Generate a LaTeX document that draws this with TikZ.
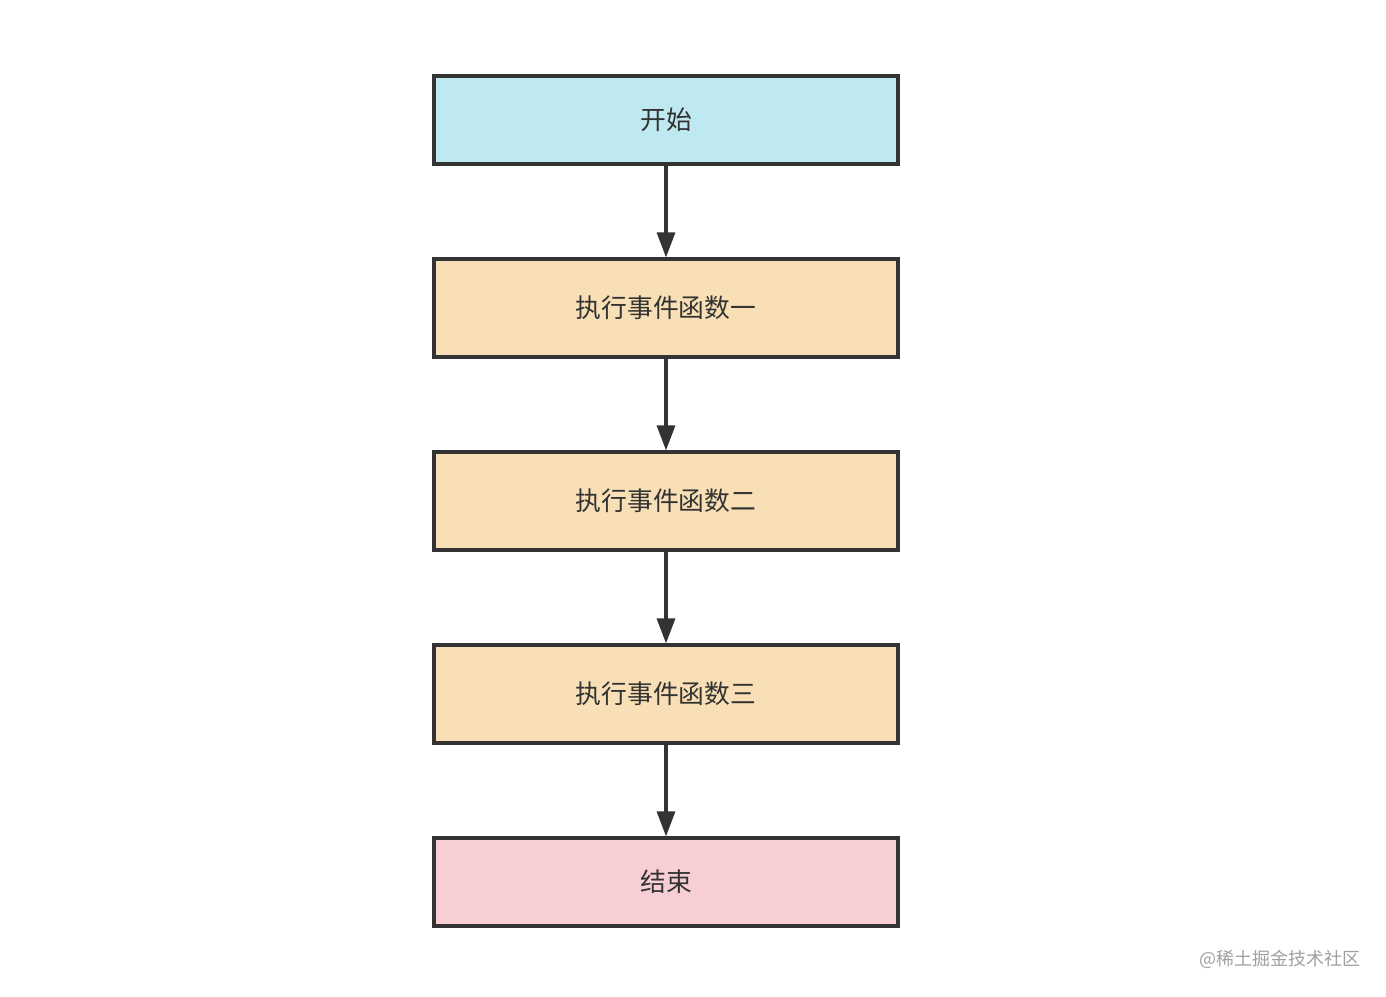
\documentclass[tikz,border=0pt]{standalone}
\usepackage{fontspec}
\newfontfamily\cjk{Noto Sans CJK SC}
\usetikzlibrary{arrows.meta}
\definecolor{edgec}{HTML}{333333}
\definecolor{cyanf}{HTML}{BEE9F0}
\definecolor{orangef}{HTML}{F8DFB5}
\definecolor{pinkf}{HTML}{F6CED4}
\definecolor{wmark}{HTML}{A0A0A0}
\begin{document}
\begin{tikzpicture}[x=1pt,y=-1pt,
  box/.style={draw=edgec, line width=3.2pt, minimum width=464pt, inner sep=0pt, text=edgec, font=\cjk\fontsize{25.8}{30}\selectfont},
  conn/.style={draw=edgec, line width=3.2pt, -{Triangle[length=25pt,width=18pt]}}]
\useasboundingbox (0,0) rectangle (1386,996);
\node[box, fill=cyanf, minimum height=88pt] (s) at (666,120) {开始};
\node[box, fill=orangef, minimum height=98pt] (f1) at (666,308) {执行事件函数一};
\node[box, fill=orangef, minimum height=98pt] (f2) at (666,501) {执行事件函数二};
\node[box, fill=orangef, minimum height=98pt] (f3) at (666,694) {执行事件函数三};
\node[box, fill=pinkf, minimum height=88pt] (e) at (666,882) {结束};
\draw[conn] (s) -- (f1);
\draw[conn] (f1) -- (f2);
\draw[conn] (f2) -- (f3);
\draw[conn] (f3) -- (e);
\node[anchor=east, text=wmark, inner sep=0pt, font=\cjk\fontsize{18}{20}\selectfont] (w) at (1361,959) {@稀土掘金技术社区};
\end{tikzpicture}
\end{document}
